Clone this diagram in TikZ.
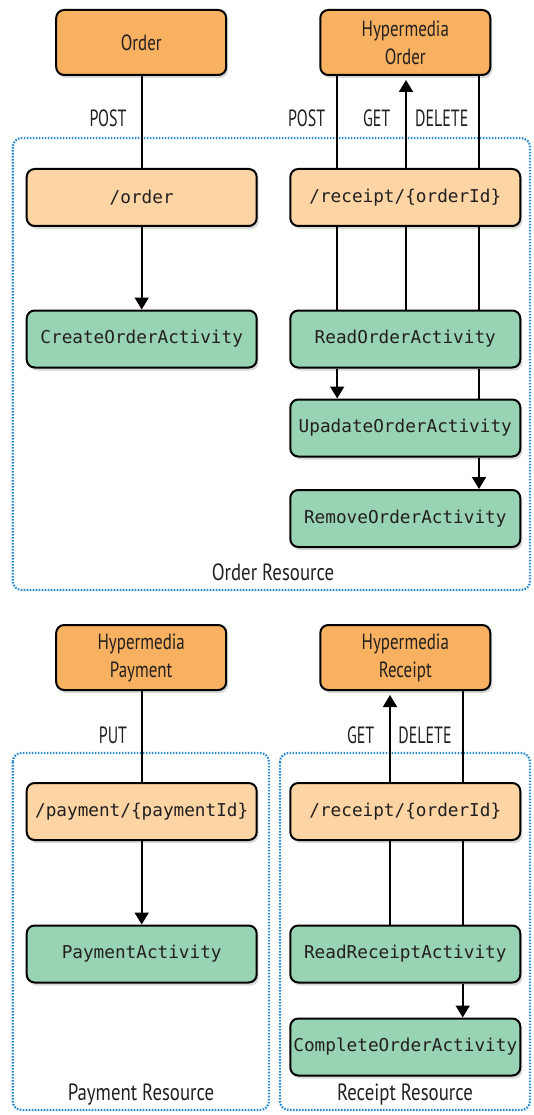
\documentclass[tikz,border=0pt]{standalone}
\usepackage{fontspec}
\newfontfamily\nodefont[FakeStretch=0.77]{PT Sans}
\newfontfamily\capsfont[FakeStretch=0.68]{PT Sans}
\newfontfamily\resfont[FakeStretch=0.8]{PT Sans}
\newfontfamily\codefont{DejaVu Sans Mono}
\usetikzlibrary{arrows.meta,shadows}
\definecolor{topc}{HTML}{F8B160}
\definecolor{midc}{HTML}{FDD4A4}
\definecolor{actc}{HTML}{98D3B3}
\definecolor{dotc}{HTML}{2A8AD0}
\definecolor{txtc}{HTML}{231F20}
\tikzset{
  box/.style={draw=black, line width=2pt, rounded corners=8pt, inner sep=0pt,
    text=txtc, drop shadow={shadow xshift=2pt, shadow yshift=-3pt, opacity=0.3}},
  topbox/.style={box, fill=topc, minimum width=170pt, minimum height=65pt, align=center,
    font=\nodefont\fontsize{22}{28}\selectfont},
  midbox/.style={box, fill=midc, minimum width=230pt, minimum height=57pt,
    font=\codefont\fontsize{17.7}{20}\selectfont},
  actbox/.style={box, fill=actc, minimum width=230pt, minimum height=57pt,
    font=\codefont\fontsize{17.7}{20}\selectfont},
  lab/.style={text=txtc, inner sep=0pt, font=\capsfont\fontsize{23.5}{26}\selectfont},
  reslab/.style={text=txtc, inner sep=0pt, font=\resfont\fontsize{23.5}{26}\selectfont},
  conn/.style={line width=1.9pt, black},
  arr/.style={conn, -{Triangle[width=14pt,length=12pt]}},
  region/.style={draw=dotc, line width=2.2pt, dash pattern=on 1.6pt off 1.4pt, rounded corners=9pt}
}
\begin{document}
\begin{tikzpicture}[x=1pt,y=-1pt]
\useasboundingbox (0,0) rectangle (534,1115);
% regions
\draw[region] (12.7,138) rectangle (530,590);
\draw[region] (12.7,753) rectangle (269,1110);
\draw[region] (280,753) rectangle (530,1110);
% column coordinates
\coordinate (xL) at (141.7,0);
\coordinate (xPost) at (337.2,0);
\coordinate (xGet) at (406,0);
\coordinate (xDel) at (479,0);
\coordinate (xRGet) at (390,0);
\coordinate (xRDel) at (462.7,0);
% top section nodes
\node[topbox] (order) at (141.2,42.5) {Order};
\node[topbox] (hypO) at (405.3,42.5) {Hypermedia\\Order};
\node[midbox] (orderR) at (141.7,197.5) {/order};
\node[midbox] (recO) at (405.3,197.5) {/receipt/\{orderId\}};
\node[actbox] (create) at (141.7,339) {CreateOrderActivity};
\node[actbox] (readO) at (405.3,339) {ReadOrderActivity};
\node[actbox] (upd) at (405.3,428) {UpadateOrderActivity};
\node[actbox] (rem) at (405.3,518.5) {RemoveOrderActivity};
% bottom section nodes
\node[topbox] (hypP) at (141.2,657.5) {Hypermedia\\Payment};
\node[topbox] (hypR) at (405.3,657.5) {Hypermedia\\Receipt};
\node[midbox] (payR) at (141.7,811.5) {/payment/\{paymentId\}};
\node[midbox] (recR) at (405.3,811.5) {/receipt/\{orderId\}};
\node[actbox] (payA) at (141.7,954) {PaymentActivity};
\node[actbox] (readR) at (405.3,954) {ReadReceiptActivity};
\node[actbox] (comp) at (405.3,1047) {CompleteOrderActivity};
% labels
\node[lab] (lPost1) at (108,118) {POST};
\node[lab] (lPost2) at (306.7,118) {POST};
\node[lab] (lGet1) at (376.7,118) {GET};
\node[lab] (lDel1) at (441.7,118) {DELETE};
\node[reslab] (lOR) at (273,572) {Order Resource};
\node[lab] (lPut) at (113,735) {PUT};
\node[lab] (lGet2) at (360.7,735) {GET};
\node[lab] (lDel2) at (425,735) {DELETE};
\node[reslab] (lPR) at (141,1095) {Payment Resource};
\node[reslab] (lRR) at (405,1095) {Receipt Resource};
% connectors: order
\draw[conn] (order.south -| xL) -- (orderR.north -| xL);
\draw[arr] (orderR.south -| xL) -- (create.north -| xL);
% POST hypermedia order
\draw[conn] (hypO.south -| xPost) -- (recO.north -| xPost);
\draw[conn] (recO.south -| xPost) -- (readO.north -| xPost);
\draw[arr] (readO.south -| xPost) -- (upd.north -| xPost);
% GET
\draw[conn] (readO.north -| xGet) -- (recO.south -| xGet);
\draw[arr] (recO.north -| xGet) -- ([yshift=-4pt]hypO.south -| xGet);
% DELETE
\draw[conn] (hypO.south -| xDel) -- (recO.north -| xDel);
\draw[conn] (recO.south -| xDel) -- (readO.north -| xDel);
\draw[conn] (readO.south -| xDel) -- (upd.north -| xDel);
\draw[arr] (upd.south -| xDel) -- (rem.north -| xDel);
% payment
\draw[conn] (hypP.south -| xL) -- (payR.north -| xL);
\draw[arr] (payR.south -| xL) -- (payA.north -| xL);
% receipt
\draw[conn] (readR.north -| xRGet) -- (recR.south -| xRGet);
\draw[arr] (recR.north -| xRGet) -- ([yshift=-4pt]hypR.south -| xRGet);
\draw[conn] (hypR.south -| xRDel) -- (recR.north -| xRDel);
\draw[conn] (recR.south -| xRDel) -- (readR.north -| xRDel);
\draw[arr] (readR.south -| xRDel) -- (comp.north -| xRDel);
\end{tikzpicture}
\end{document}
